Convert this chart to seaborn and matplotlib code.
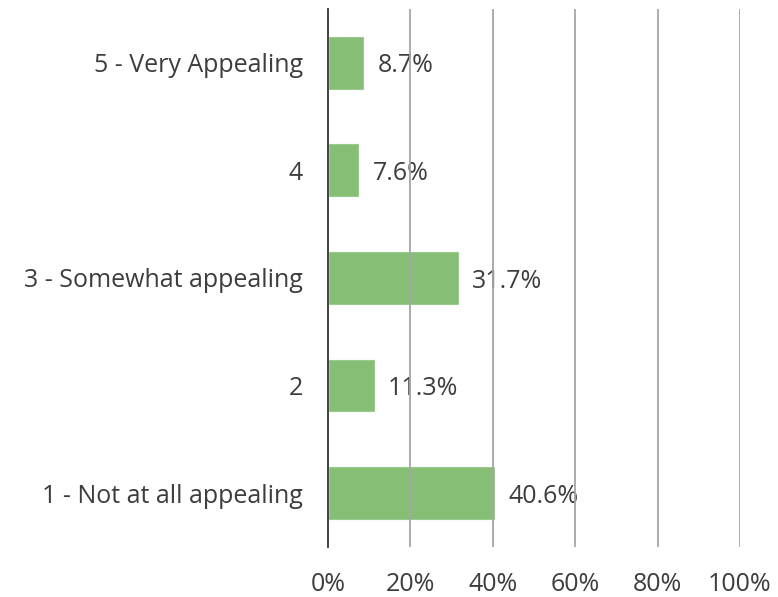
import matplotlib
matplotlib.use("Agg")
import matplotlib.pyplot as plt
import seaborn as sns
import pandas as pd

categories = ["5 - Very Appealing", "4", "3 - Somewhat appealing", "2", "1 - Not at all appealing"]
shares = [8.7, 7.6, 31.7, 11.3, 40.6]
tick_values = [0, 20, 40, 60, 80, 100]
tick_labels = ["0%", "20%", "40%", "60%", "80%", "100%"]

df = pd.DataFrame({"category": categories, "share": shares})

sns.set_style("white")
plt.rcParams["font.family"] = ["Open Sans", "DejaVu Sans"]

fig = plt.figure(figsize=(7.78, 5.97), dpi=100)
ax = fig.add_axes([0.4216, 0.0838, 0.5295, 0.9012])

sns.barplot(data=df, x="share", y="category", order=categories,
            color="#7db96a", alpha=0.92, width=0.5, saturation=1,
            ax=ax, zorder=1)

ax.set_xlim(0, 100)
ax.set_xticks(tick_values)
ax.set_xticklabels(tick_labels)
ax.set_xlabel("")
ax.set_ylabel("")
ax.tick_params(axis="both", length=0, labelsize=18, colors="#3d3d3d")
ax.tick_params(axis="x", pad=18)
ax.tick_params(axis="y", pad=18)

for s in ["top", "right", "bottom"]:
    ax.spines[s].set_visible(False)
ax.spines["left"].set_color("#333333")
ax.spines["left"].set_linewidth(1.3)
ax.spines["left"].set_zorder(6)

# value labels at the end of each bar
for i, v in enumerate(shares):
    ax.text(v + 3.3, i + 0.03, f"{v:.1f}%", va="center", ha="left",
            fontsize=18, color="#3d3d3d", zorder=3)

# vertical gridlines drawn over bars and labels
for t in tick_values[1:]:
    ax.axvline(t, color="#a6a6a6", linewidth=1.3, zorder=5)

fig.savefig("out.png", dpi=100)
